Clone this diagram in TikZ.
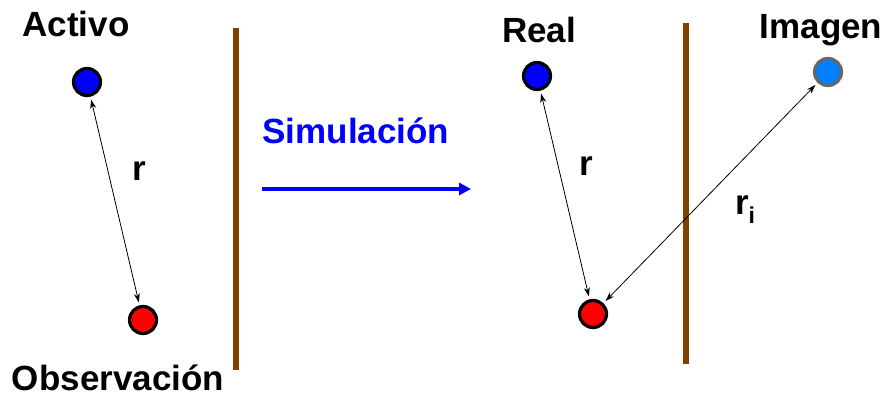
\documentclass[tikz,border=0pt]{standalone}
\usepackage{fontspec}
\setmainfont{Liberation Sans}
\usetikzlibrary{arrows.meta}
\definecolor{wallbrown}{RGB}{128,64,0}
\definecolor{imgblue}{RGB}{0,128,255}
\begin{document}
\begin{tikzpicture}[x=1pt,y=-1pt,
  lbl/.style={font=\fontsize{35}{37}\selectfont\bfseries, inner sep=0pt},
  dot/.style={circle, minimum size=27pt, inner sep=0pt, line width=3.2pt, draw=black},
  wall/.style={draw=wallbrown, line width=6pt},
  dist/.style={draw=black, line width=0.8pt, {Stealth[length=9pt,width=6pt]}-{Stealth[length=9pt,width=6pt]}, shorten <=3pt, shorten >=3pt},
  simarrow/.style={draw=blue, line width=3.4pt, -{Triangle[length=12pt,width=12pt]}}]
\useasboundingbox (0,0) rectangle (889,396);
% left scene
\node[lbl] (activo) at (76,24) {Activo};
\node[dot, fill=blue] (act) at (87,82) {};
\node[dot, fill=red] (obs) at (143,320) {};
\node[lbl, anchor=base] (observ) at (118,390) {Observación};
\coordinate (w1a) at (236,28);
\coordinate (w1b) at (236,370);
\draw[wall] (w1a) -- (w1b);
\draw[dist] (act) -- (obs);
\node[lbl] (r1) at (139,171) {r};
% simulation arrow
\node[lbl, text=blue] (sim) at (356,131) {Simulación};
\coordinate (sa) at (262,189);
\coordinate (sb) at (471,189);
\draw[simarrow] (sa) -- (sb);
% right scene
\node[lbl] (real) at (539,30) {Real};
\node[dot, fill=blue] (rl) at (537,76) {};
\node[lbl] (imagen) at (821,30) {Imagen};
\node[dot, fill=imgblue, draw=black!60] (im) at (828,72) {};
\node[dot, fill=red] (obs2) at (593,314) {};
\coordinate (w2a) at (686,23);
\coordinate (w2b) at (686,364);
\draw[wall] (w2a) -- (w2b);
\draw[dist] (rl) -- (obs2);
\draw[dist] (im) -- (obs2);
\node[lbl] (r2) at (586,166) {r};
\node[lbl, anchor=base] (ri) at (745,214) {r\raisebox{-9pt}{\fontsize{23}{25}\selectfont i}};
\end{tikzpicture}
\end{document}
